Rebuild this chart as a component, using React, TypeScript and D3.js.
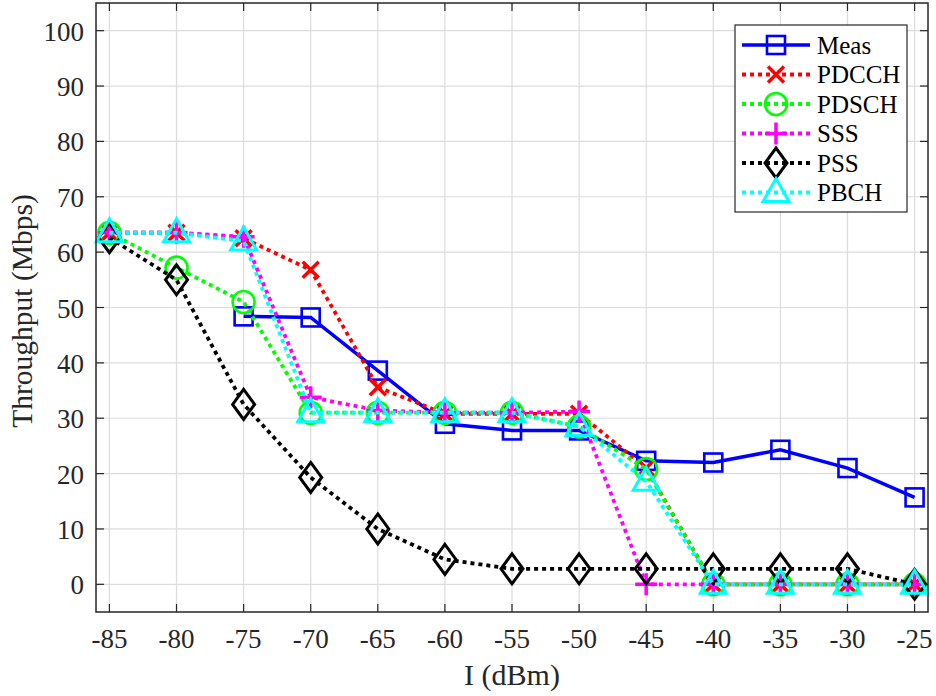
import React from "react";
import * as d3 from "d3";

const xValues = [-85, -80, -75, -70, -65, -60, -55, -50, -45, -40, -35, -30, -25];
const xTicks = [-85, -80, -75, -70, -65, -60, -55, -50, -45, -40, -35, -30, -25];
const yTicks = [0, 10, 20, 30, 40, 50, 60, 70, 80, 90, 100];

// null = no measurement at that point
const meas = [null, null, 48.4, 48.2, 38.6, 29.0, 27.8, 27.8, 22.3, 22.0, 24.3, 21.0, 15.7];
const pdcch = [63.5, 63.5, 62.5, 56.8, 35.6, 30.8, 30.8, 30.8, 21.0, 0, 0, 0, 0];
const pdsch = [63.5, 57.2, 51.0, 31.0, 31.0, 31.0, 31.0, 28.5, 20.8, 0, 0, 0, 0];
const sss = [63.5, 63.5, 62.8, 33.8, 31.4, 31.0, 31.0, 31.2, 0, 0, 0, 0, 0];
const pss = [62.6, 55.0, 32.5, 19.3, 10.0, 4.5, 2.8, 2.8, 2.8, 2.8, 2.8, 2.8, 0];
const pbch = [63.5, 63.5, 62.0, 31.0, 31.0, 31.0, 31.0, 28.5, 18.6, 0, 0, 0, 0];

type Series = { name: string; values: (number | null)[]; color: string; dotted: boolean; marker: string };

const series: Series[] = [
  { name: "Meas", values: meas, color: "#0000ff", dotted: false, marker: "square" },
  { name: "PDCCH", values: pdcch, color: "#ff0000", dotted: true, marker: "x" },
  { name: "PDSCH", values: pdsch, color: "#00ff00", dotted: true, marker: "circle" },
  { name: "SSS", values: sss, color: "#ff00ff", dotted: true, marker: "plus" },
  { name: "PSS", values: pss, color: "#000000", dotted: true, marker: "diamond" },
  { name: "PBCH", values: pbch, color: "#00ffff", dotted: true, marker: "triangle" },
];

const W = 936;
const H = 696;
const pLeft = 96;
const pRight = 928;
const pTop = 3;
const pBottom = 612;

const Marker = ({ type, x, y, color }: { type: string; x: number; y: number; color: string }) => {
  const sw = 2.6;
  const common = { fill: "none", stroke: color, strokeWidth: sw };
  if (type === "square") return <rect x={x - 9} y={y - 9} width={18} height={18} {...common} />;
  if (type === "circle") return <circle cx={x} cy={y} r={11} {...common} />;
  if (type === "x")
    return <path d={`M${x - 8},${y - 8}L${x + 8},${y + 8}M${x - 8},${y + 8}L${x + 8},${y - 8}`} {...common} strokeWidth={3.5} />;
  if (type === "plus")
    return <path d={`M${x - 11},${y}L${x + 11},${y}M${x},${y - 11}L${x},${y + 11}`} {...common} strokeWidth={3.5} />;
  if (type === "diamond")
    return <path d={`M${x},${y - 15}L${x + 11},${y}L${x},${y + 15}L${x - 11},${y}Z`} {...common} strokeWidth={3} />;
  if (type === "triangle")
    return <path d={`M${x},${y - 14}L${x + 13},${y + 9}L${x - 13},${y + 9}Z`} {...common} strokeWidth={3} />;
  return null;
};

export default function App() {
  const x = d3.scaleLinear().domain([-86, -24]).range([pLeft, pRight]);
  const y = d3.scaleLinear().domain([-5, 105]).range([pBottom, pTop]);

  const line = d3
    .line<number | null>()
    .defined((d) => d !== null)
    .x((_, i) => x(xValues[i]))
    .y((d) => y(d as number));

  const legendX = 735;
  const legendY = 25;
  const rowH = 29.5;

  return (
    <svg
      className="chart"
      width={W}
      height={H}
      fontFamily="Liberation Serif"
      style={{ position: "absolute", left: 0, top: 0 }}
    >
      <style>{`.chart text { font-family: "Liberation Serif", "Times New Roman", serif !important; }`}</style>
      <rect x={0} y={0} width={W} height={H} fill="#fff" />
      {/* grid */}
      <g stroke="#dcdcdc" strokeWidth={1.2}>
        {xTicks.map((t) => (
          <line key={"gx" + t} x1={x(t)} x2={x(t)} y1={pTop} y2={pBottom} />
        ))}
        {yTicks.map((t) => (
          <line key={"gy" + t} x1={pLeft} x2={pRight} y1={y(t)} y2={y(t)} />
        ))}
      </g>
      {/* ticks */}
      <g stroke="#262626" strokeWidth={1.2}>
        {xTicks.map((t) => (
          <g key={"tx" + t}>
            <line x1={x(t)} x2={x(t)} y1={pBottom} y2={pBottom - 8} />
            <line x1={x(t)} x2={x(t)} y1={pTop} y2={pTop + 8} />
          </g>
        ))}
        {yTicks.map((t) => (
          <g key={"ty" + t}>
            <line x1={pLeft} x2={pLeft + 8} y1={y(t)} y2={y(t)} />
            <line x1={pRight} x2={pRight - 8} y1={y(t)} y2={y(t)} />
          </g>
        ))}
      </g>
      {/* series */}
      {series.map((s) => (
        <g key={s.name}>
          <path
            d={line(s.values) || ""}
            fill="none"
            stroke={s.color}
            strokeWidth={s.dotted ? 3.8 : 3.5}
            strokeDasharray={s.dotted ? "4,4" : undefined}
          />
          {s.values.map((v, i) =>
            v === null ? null : <Marker key={i} type={s.marker} x={x(xValues[i])} y={y(v)} color={s.color} />
          )}
        </g>
      ))}
      {/* box */}
      <rect x={pLeft} y={pTop} width={pRight - pLeft} height={pBottom - pTop} fill="none" stroke="#262626" strokeWidth={1.5} />
      {/* tick labels */}
      {xTicks.map((t) => (
        <text key={"lx" + t} x={x(t)} y={648} textAnchor="middle" fontSize={27} fill="#262626">
          {String(t)}
        </text>
      ))}
      {yTicks.map((t) => (
        <text key={"ly" + t} x={84} y={y(t) + 10} textAnchor="end" fontSize={27} fill="#262626">
          {String(t)}
        </text>
      ))}
      <text x={(pLeft + pRight) / 2} y={685} textAnchor="middle" fontSize={30} fill="#262626">
        I (dBm)
      </text>
      <text transform="translate(32,311) rotate(-90)" textAnchor="middle" fontSize={29.5} fill="#262626">
        Throughput (Mbps)
      </text>
      {/* legend */}
      <rect x={legendX} y={legendY} width={172} height={187} fill="#fff" stroke="#262626" strokeWidth={1.2} />
      {series.map((s, i) => {
        const cy = legendY + 20 + i * rowH;
        return (
          <g key={"lg" + s.name}>
            <line
              x1={742}
              x2={810}
              y1={cy}
              y2={cy}
              stroke={s.color}
              strokeWidth={s.dotted ? 3.8 : 3.5}
              strokeDasharray={s.dotted ? "4,4" : undefined}
            />
            <Marker type={s.marker} x={776} y={cy} color={s.color} />
            <text x={817} y={cy + 8.5} fontSize={25} fill="#000">
              {s.name}
            </text>
          </g>
        );
      })}
    </svg>
  );
}
